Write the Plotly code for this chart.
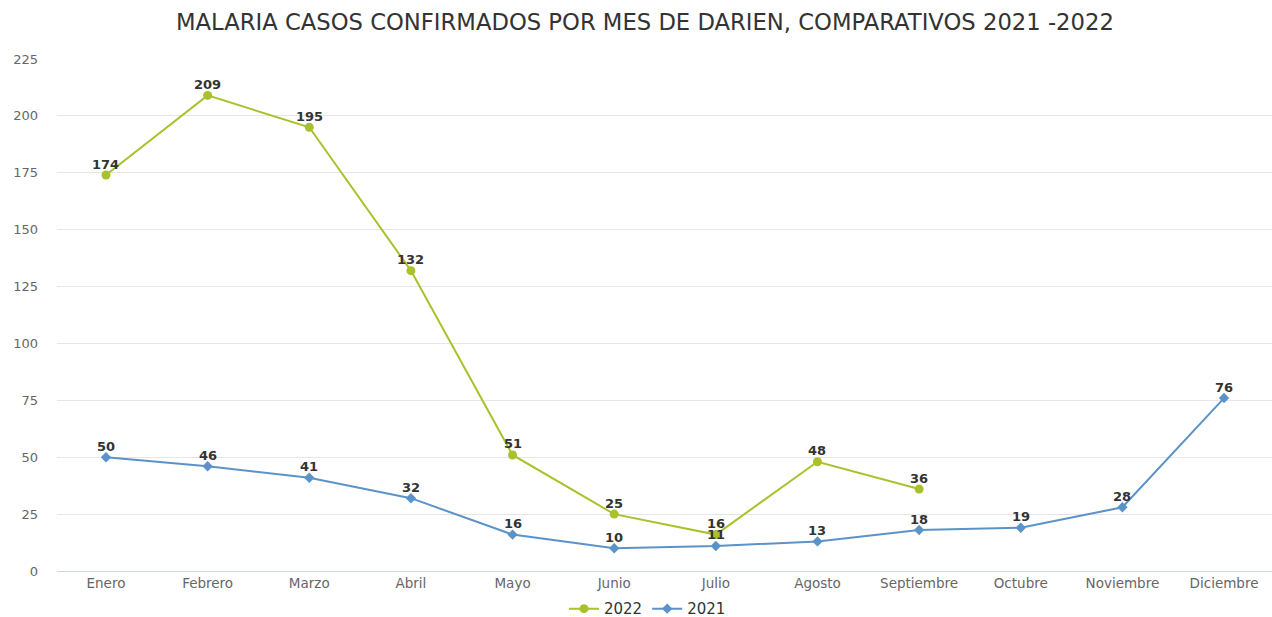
import plotly.graph_objects as go

months = ["Enero", "Febrero", "Marzo", "Abril", "Mayo", "Junio", "Julio",
          "Agosto", "Septiembre", "Octubre", "Noviembre", "Diciembre"]
cases_2022 = [174, 209, 195, 132, 51, 25, 16, 48, 36]
cases_2021 = [50, 46, 41, 32, 16, 10, 11, 13, 18, 19, 28, 76]
y_ticks = [0, 25, 50, 75, 100, 125, 150, 175, 200, 225]

c2022 = "#a9c22b"
c2021 = "#5b93c9"

fig = go.Figure()
fig.add_trace(go.Scatter(
    x=months[:len(cases_2022)], y=cases_2022, name="2022",
    mode="lines+markers",
    line=dict(color=c2022, width=2), marker=dict(symbol="circle", size=9, color=c2022),
    cliponaxis=False,
))
fig.add_trace(go.Scatter(
    x=months, y=cases_2021, name="2021",
    mode="lines+markers",
    line=dict(color=c2021, width=2), marker=dict(symbol="diamond", size=8, color=c2021),
    cliponaxis=False,
))

label_font = dict(family="DejaVu Sans", size=13, color="#333333", weight="bold")
for series_months, series_vals in ((months[:len(cases_2022)], cases_2022), (months, cases_2021)):
    for m, v in zip(series_months, series_vals):
        fig.add_annotation(x=m, y=v, text=str(v), showarrow=False, yshift=11,
                           yanchor="middle", xanchor="center", font=label_font)

fig.update_layout(
    width=1272, height=617,
    margin=dict(l=57, r=0, t=59, b=46, autoexpand=False),
    paper_bgcolor="white", plot_bgcolor="white",
    title=dict(text="MALARIA CASOS CONFIRMADOS POR MES DE DARIEN, COMPARATIVOS 2021 -2022",
               x=0.507, xanchor="center", y=0.965, yanchor="middle",
               font=dict(family="DejaVu Sans", size=22.7, color="#333333")),
    font=dict(family="DejaVu Sans"),
    showlegend=True,
    legend=dict(orientation="h", x=0.486, xanchor="center", y=-0.074, yanchor="middle",
                font=dict(size=15, color="#333333")),
    xaxis=dict(type="category", categoryorder="array", categoryarray=months,
               range=[-0.482, 11.472], showgrid=False, showline=True,
               linecolor="#ccd6eb", linewidth=1, ticks="", automargin=False,
               tickfont=dict(size=13.5, color="#666666"), zeroline=False),
    yaxis=dict(range=[0, 225], tickvals=y_ticks, showgrid=True, gridcolor="#e6e6e6",
               gridwidth=1, zeroline=False, showline=False, ticks="", automargin=False,
               tickfont=dict(size=13, color="#666666"), ticklabelstandoff=18),
)

fig.write_html("out.html", config={"displayModeBar": False},
               post_script="document.body.style.margin='0';")
